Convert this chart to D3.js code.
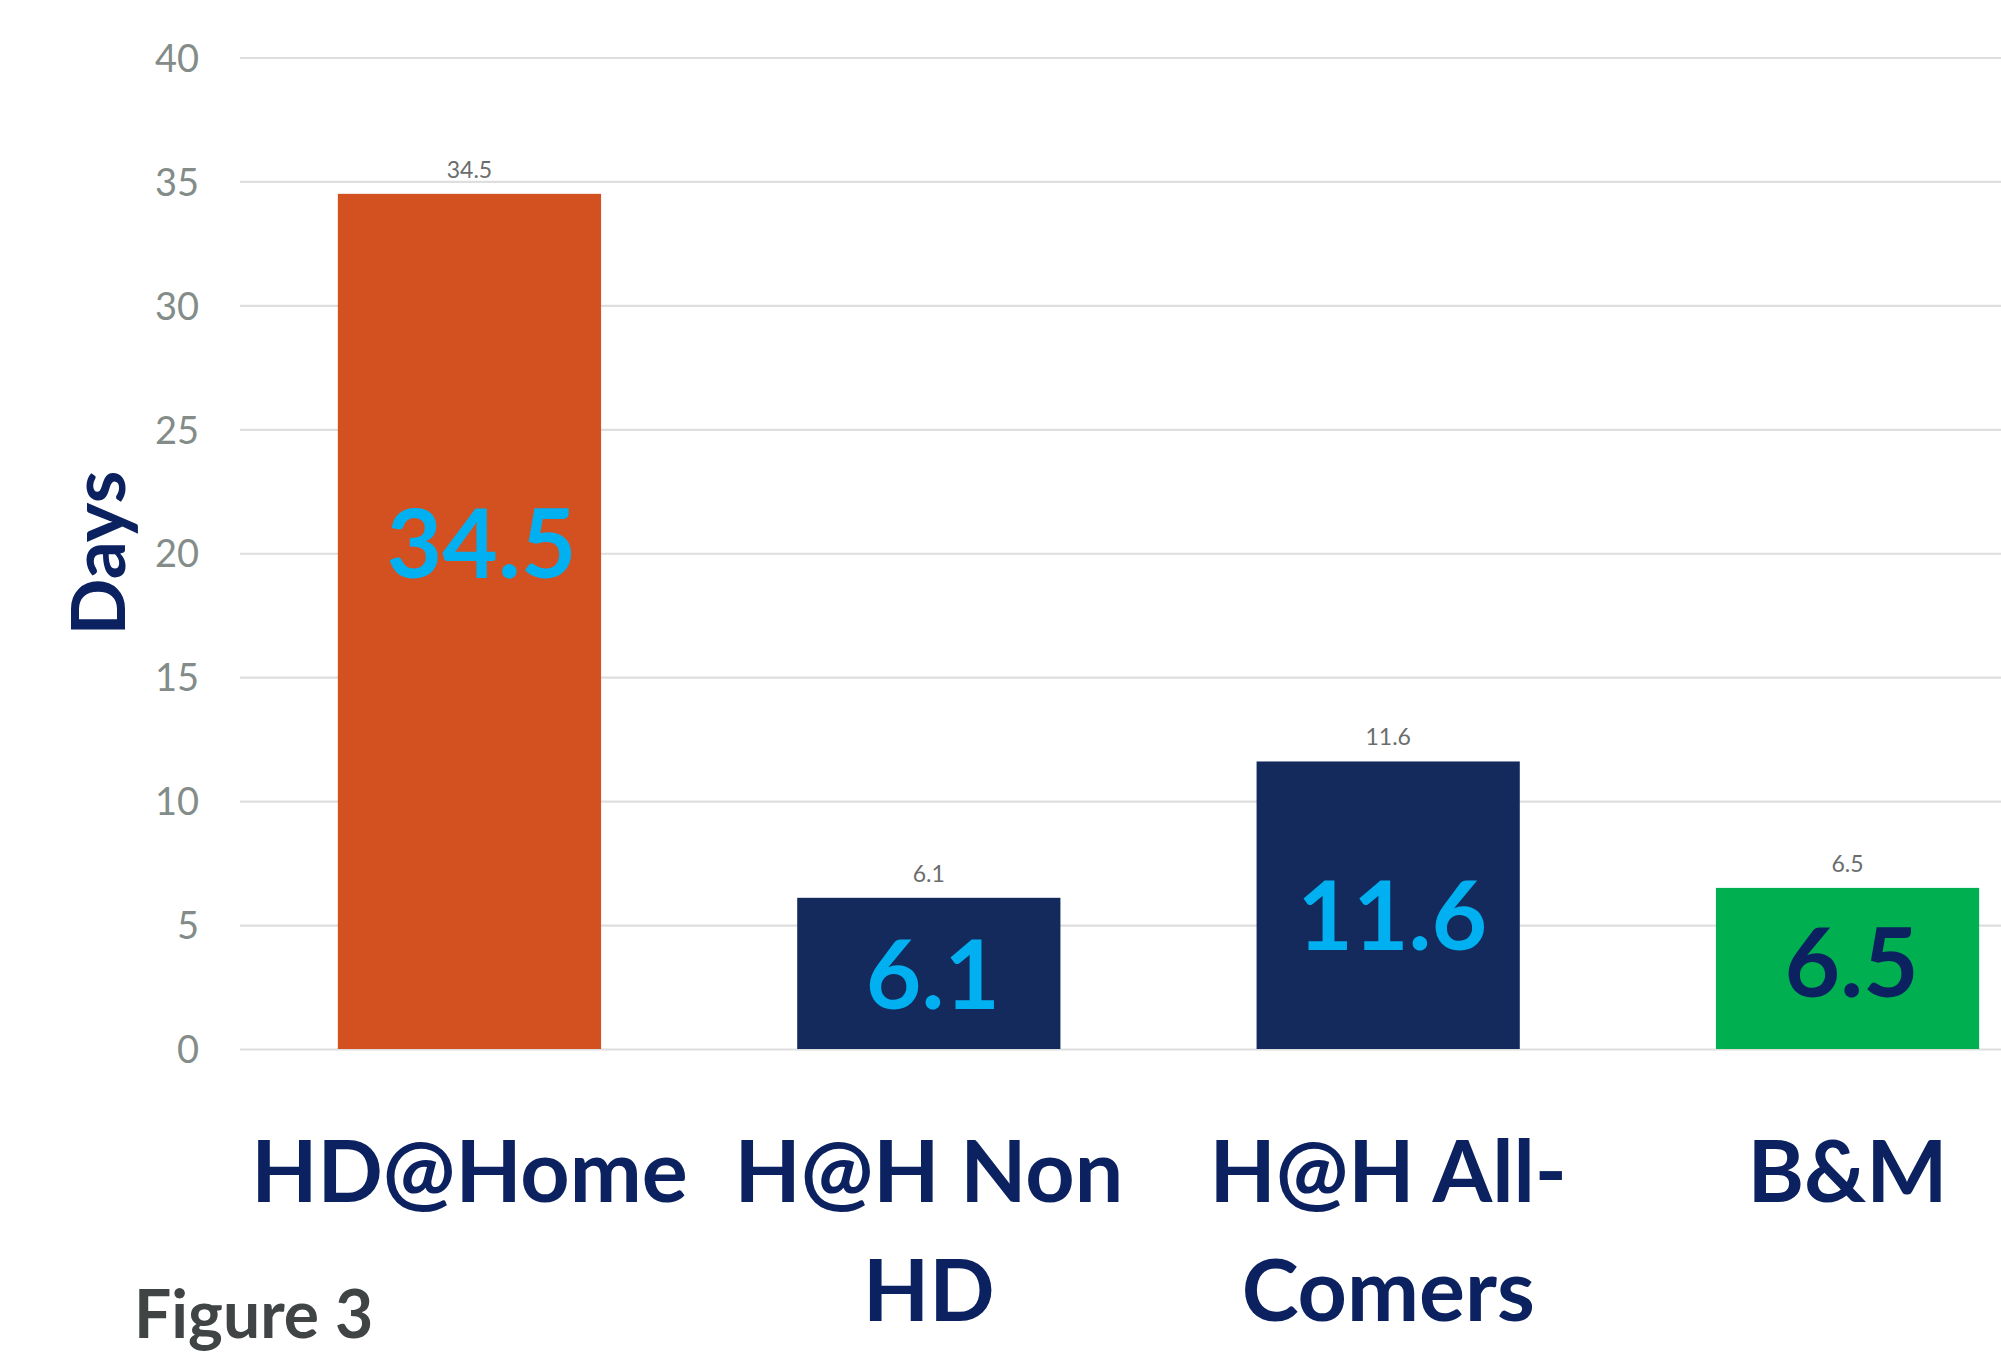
<!DOCTYPE html>
<html>
<head>
<meta charset="utf-8">
<script src="https://cdn.jsdelivr.net/npm/d3@7"></script>
<style>
  body { margin: 0; background: #fff; }
  text { font-family: Lato, "Open Sans", sans-serif; }
</style>
</head>
<body>
<svg id="chart"></svg>
<script>
// data
const categories = ["HD@Home", "H@H Non HD", "H@H All-Comers", "B&M"];
const tickLines = [["HD@Home"], ["H@H Non", "HD"], ["H@H All-", "Comers"], ["B&M"]];
const values = [34.5, 6.1, 11.6, 6.5];
const yTicks = [0, 5, 10, 15, 20, 25, 30, 35, 40];

// look
const barColors = ["#d35020", "#142a5c", "#142a5c", "#00b050"];
const bigLabelColors = ["#00b0f0", "#00b0f0", "#00b0f0", "#0b2160"];
const bigLabelAt = [20.4, 3.0, 5.4, 3.5]; // where the big label sits, in days
const navy = "#0b2160";

const width = 2001;
const height = 1354;
const margin = { top: 57.5, left: 240 };
const plotH = 1049 - margin.top;

var svg = d3.select("#chart")
  .attr("width", width)
  .attr("height", height);

var g = svg.append("g")
  .attr("transform", "translate(" + margin.left + "," + margin.top + ")");

// scales (the plot runs a bit past the right edge, as in the original)
var x = d3.scaleBand()
  .domain(categories)
  .range([0, 1837])
  .paddingInner(0.427)
  .paddingOuter(0.213);

var y = d3.scaleLinear()
  .domain([0, 40])
  .range([plotH, 0]);

// gridlines + tick labels
var yAxis = d3.axisLeft(y)
  .tickValues(yTicks)
  .tickSize(-(width - margin.left))
  .tickPadding(41);

g.append("g")
  .attr("class", "y-axis")
  .call(yAxis)
  .call(function(a) {
    a.select(".domain").remove();
    a.selectAll(".tick line")
      .attr("stroke", "#dedede")
      .attr("stroke-width", 2.2);
    a.selectAll(".tick text")
      .attr("fill", "#838c89")
      .style("font-size", "38px")
      .attr("dy", "0.36em");
  });

// bars
g.selectAll(".bar")
  .data(values)
  .enter().append("rect")
  .attr("class", "bar")
  .attr("x", function(d, i) { return x(categories[i]); })
  .attr("y", function(d) { return y(d); })
  .attr("width", x.bandwidth())
  .attr("height", function(d) { return y(0) - y(d); })
  .attr("fill", function(d, i) { return barColors[i]; });

// small value labels above bars
g.selectAll(".small-label")
  .data(values)
  .enter().append("text")
  .attr("class", "small-label")
  .attr("x", function(d, i) { return x(categories[i]) + x.bandwidth() / 2; })
  .attr("y", function(d) { return y(d) - 16; })
  .attr("text-anchor", "middle")
  .attr("fill", "#6a6d6d")
  .style("font-size", "23px")
  .text(function(d) { return d; });

// big labels inside bars
g.selectAll(".big-label")
  .data(values)
  .enter().append("text")
  .attr("class", "big-label")
  .attr("x", function(d, i) { return x(categories[i]) + x.bandwidth() / 2 + (i === 0 ? 12 : 4); })
  .attr("y", function(d, i) { return y(bigLabelAt[i]); })
  .attr("dy", "0.36em")
  .attr("text-anchor", "middle")
  .attr("fill", function(d, i) { return bigLabelColors[i]; })
  .style("font-size", "96px")
  .style("font-weight", "bold")
  .text(function(d) { return d; });

// category labels (wrapped like the original)
var cat = g.selectAll(".category-label")
  .data(categories)
  .enter().append("text")
  .attr("class", "category-label")
  .attr("x", function(d) { return x(d) + x.bandwidth() / 2; })
  .attr("y", plotH + 153)
  .attr("text-anchor", "middle")
  .attr("fill", navy)
  .style("font-size", "86px")
  .style("font-weight", "bold");

cat.selectAll("tspan")
  .data(function(d, i) { return tickLines[i]; })
  .enter().append("tspan")
  .attr("x", function() { return d3.select(this.parentNode).attr("x"); })
  .attr("dy", function(d, i) { return i === 0 ? 0 : 119; })
  .text(function(d) { return d; });

// y axis title
svg.append("text")
  .attr("transform", "translate(125,553) rotate(-90)")
  .attr("text-anchor", "middle")
  .attr("fill", navy)
  .style("font-size", "75px")
  .style("font-weight", "bold")
  .text("Days");

// figure caption
svg.append("text")
  .attr("x", 134)
  .attr("y", 1338)
  .attr("fill", "#404444")
  .style("font-size", "66px")
  .style("font-weight", "bold")
  .text("Figure 3");
</script>
</body>
</html>
